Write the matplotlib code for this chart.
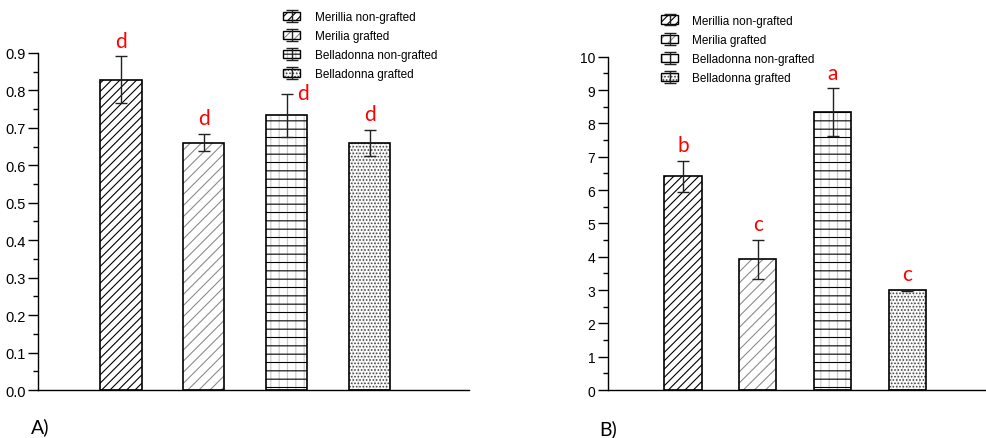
import matplotlib.pyplot as plt
from matplotlib.patches import Patch
from matplotlib.legend_handler import HandlerTuple

plt.rcParams["font.family"] = ["Liberation Sans", "DejaVu Sans"]
plt.rcParams["hatch.linewidth"] = 0.8

groups = ["Merillia non-grafted", "Merilia grafted",
          "Belladonna non-grafted", "Belladonna grafted"]
positions = [1, 2, 3, 4]

# panel A
a_means = [0.828, 0.660, 0.733, 0.660]
a_err = [0.063, 0.023, 0.058, 0.034]
a_letters = ["d", "d", "d", "d"]

# panel B
b_means = [6.41, 3.92, 8.33, 2.99]
b_err = [0.47, 0.58, 0.72, 0.02]
b_letters = ["b", "c", "a", "c"]

# hatch layers per group: (hatch, colour)
layers = [
    [("////", "black")],
    [("///", "#8c8c8c")],
    [("||", "#c8c8c8"), ("--", "black")],
    [("|||", "#dddddd"), (".....", "#444444")],
]


def draw_panel(ax, means, errs, letters, letter_offsets, ylim, yticks, minor_step, xmax):
    for i, (x, m) in enumerate(zip(positions, means)):
        for k, (hatch, col) in enumerate(layers[i]):
            ax.bar(x, m, 0.5, color="white" if k == 0 else "none",
                   edgecolor=col, hatch=hatch, linewidth=0, zorder=2)
    bars = ax.bar(positions, means, 0.5, fill=False, edgecolor="black", linewidth=1.2,
                  yerr=errs, capsize=4.5, zorder=3,
                  error_kw=dict(elinewidth=1.0, capthick=1.0, ecolor="#222222"))
    for x, m, e, t, (dx, dy) in zip(positions, means, errs, letters, letter_offsets):
        ax.annotate(t, (x, m + e), xytext=(dx, dy), textcoords="offset points",
                    ha="center", va="baseline", color="red", fontsize=15,
                    family=["Lato", "DejaVu Sans"], annotation_clip=False)
    ax.set_xlim(0, xmax)
    ax.set_ylim(*ylim)
    ax.set_yticks(yticks)
    ax.set_yticks([minor_step * k for k in range(int(round(ylim[1] / minor_step)) + 1)],
                  minor=True)
    ax.set_xticks([])
    for s in ("top", "right"):
        ax.spines[s].set_visible(False)
    ax.spines["left"].set_linewidth(1.0)
    ax.spines["bottom"].set_linewidth(1.0)
    ax.tick_params(axis="y", which="major", length=7, width=1.0, labelsize=10.5, pad=2)
    ax.tick_params(axis="y", which="minor", length=3.5, width=1.0)
    return bars


def legend_handles():
    handles = []
    for i in range(len(groups)):
        parts = [Patch(facecolor="white" if k == 0 else "none", edgecolor=col,
                       hatch=h, linewidth=0) for k, (h, col) in enumerate(layers[i])]
        parts.append(Patch(facecolor="none", edgecolor="black", linewidth=1.0))
        handles.append(tuple(parts))
    return handles


fig = plt.figure(figsize=(9.86, 4.39), dpi=100)
ax_a = fig.add_axes([0.0385, 0.1093, 0.4372, 0.768])
ax_b = fig.add_axes([0.6166, 0.1093, 0.3834, 0.7593])

bars_a = draw_panel(ax_a, a_means, a_err, a_letters,
                    [(0, 7), (0, 7), (12, -4), (0, 7)],
                    (0, 0.9), [0.1 * k for k in range(10)], 0.05, 5.2)
ax_a.set_yticklabels([f"{0.1 * k:.1f}" for k in range(10)])
bars_b = draw_panel(ax_b, b_means, b_err, b_letters,
                    [(0, 7)] * 4, (0, 10), list(range(11)), 0.5, 5.05)
ax_b.tick_params(axis="y", which="major", labelsize=10)

for ax, bars, anchor in ((ax_a, bars_a, (0.279, 0.992)), (ax_b, bars_b, (0.662, 0.983))):
    hs = [h + (bars.errorbar,) for h in legend_handles()]
    fig.legend(hs, groups, loc="upper left", bbox_to_anchor=anchor, frameon=False,
               fontsize=8.5, handlelength=1.45, handleheight=0.7, handletextpad=1.2,
               labelspacing=0.6, borderpad=0.2,
               handler_map={tuple: HandlerTuple(ndivide=1)})

fig.text(0.031, 0.0137, "A)", fontsize=14, va="baseline", family=["Lato", "DejaVu Sans"])
fig.text(0.608, 0.009, "B)", fontsize=14, va="baseline", family=["Lato", "DejaVu Sans"])

fig.savefig("out.png", dpi=100)
